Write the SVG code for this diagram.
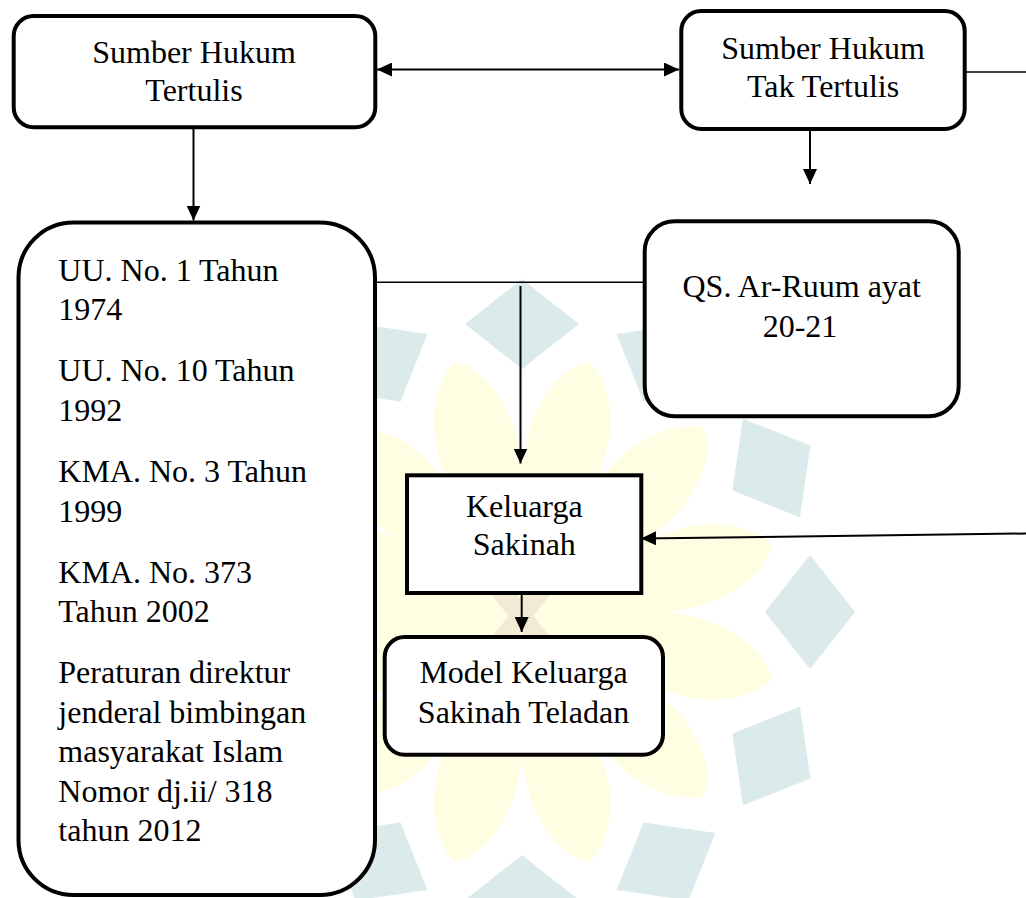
<svg xmlns="http://www.w3.org/2000/svg" xmlns:xlink="http://www.w3.org/1999/xlink" width="1026" height="898" viewBox="0 0 1026 898">
<style>
.box{fill:#ffffff;stroke:#000000;stroke-width:4}
.t{font-family:'Liberation Serif','Times New Roman',serif;font-size:32px;fill:#000000}
.c{text-anchor:middle}
.ln{fill:none;stroke:#000000;stroke-width:2}
.thin{fill:none;stroke:#000000;stroke-width:1.5}
.wm-b{fill:#dbeaeb}
.wm-y{fill:#fffee3}
.wm-t{fill:#f3ead6}
</style>
<defs>
<marker id="ah" viewBox="0 0 15 14" refX="15" refY="7" markerWidth="15" markerHeight="14" markerUnits="userSpaceOnUse" orient="auto-start-reverse">
<path d="M0,0 L15,7 L0,14 Z" fill="#000000"/>
</marker>
<path id="petal" d="M-37,-110 L-40,-175 C-40,-222 -14,-255 0,-258 C14,-255 40,-222 40,-175 L37,-110 Z"/>
<path id="dia" d="M0,-333 L57,-288 L0,-243 L-57,-288 Z"/>
</defs>
<rect width="1026" height="898" fill="#ffffff"/>
<g id="watermark">
<circle class="wm-y" cx="522" cy="612" r="142"/>
<g class="wm-y" transform="translate(522,612)">
<use xlink:href="#petal" transform="rotate(15)"/><use xlink:href="#petal" transform="rotate(45)"/><use xlink:href="#petal" transform="rotate(75)"/><use xlink:href="#petal" transform="rotate(105)"/><use xlink:href="#petal" transform="rotate(135)"/><use xlink:href="#petal" transform="rotate(165)"/><use xlink:href="#petal" transform="rotate(195)"/><use xlink:href="#petal" transform="rotate(225)"/><use xlink:href="#petal" transform="rotate(255)"/><use xlink:href="#petal" transform="rotate(285)"/><use xlink:href="#petal" transform="rotate(315)"/><use xlink:href="#petal" transform="rotate(345)"/>
</g>
<g class="wm-b" transform="translate(522,612)">
<use xlink:href="#dia" transform="rotate(0)"/><use xlink:href="#dia" transform="rotate(30)"/><use xlink:href="#dia" transform="rotate(60)"/><use xlink:href="#dia" transform="rotate(90)"/><use xlink:href="#dia" transform="rotate(120)"/><use xlink:href="#dia" transform="rotate(150)"/><use xlink:href="#dia" transform="rotate(180)"/><use xlink:href="#dia" transform="rotate(210)"/><use xlink:href="#dia" transform="rotate(240)"/><use xlink:href="#dia" transform="rotate(270)"/><use xlink:href="#dia" transform="rotate(300)"/><use xlink:href="#dia" transform="rotate(330)"/>
</g>
<g class="wm-t" transform="translate(521,616)">
<rect x="-10" y="-48" width="20" height="96" transform="rotate(38)"/>
<rect x="-10" y="-48" width="20" height="96" transform="rotate(-38)"/>
</g>
</g>
<g id="connectors">
<line class="ln" x1="377" y1="69.5" x2="679" y2="69.5" marker-start="url(#ah)" marker-end="url(#ah)"/>
<line class="ln" x1="193.5" y1="129" x2="193.5" y2="220.5" marker-end="url(#ah)"/>
<line class="ln" x1="810" y1="131" x2="810" y2="184" marker-end="url(#ah)"/>
<line class="thin" x1="958" y1="72" x2="1026" y2="72"/>
<line class="thin" x1="376" y1="282.3" x2="644" y2="282.3"/>
<line class="ln" x1="520.5" y1="286" x2="520.5" y2="463.5" marker-end="url(#ah)"/>
<line class="ln" x1="521.7" y1="595" x2="521.7" y2="632" marker-end="url(#ah)"/>
<line class="ln" x1="1026" y1="533.5" x2="641" y2="538.5" marker-end="url(#ah)"/>
</g>
<g id="node-sumber-tertulis">
<rect class="box" x="13.7" y="16" width="361.6" height="111.3" rx="20"/>
<text class="t c" x="194" y="63.3">Sumber Hukum</text>
<text class="t c" x="194" y="100.7">Tertulis</text>
</g>
<g id="node-sumber-tak-tertulis">
<rect class="box" x="681.3" y="11" width="283.4" height="118" rx="20"/>
<text class="t c" x="823" y="59.3">Sumber Hukum</text>
<text class="t c" x="823" y="97.3">Tak Tertulis</text>
</g>
<g id="node-peraturan">
<rect class="box" x="18.5" y="222.5" width="356.5" height="672.5" rx="55"/>
<text class="t" x="58.3" y="280.5">UU. No. 1 Tahun</text>
<text class="t" x="58.3" y="320">1974</text>
<text class="t" x="58.3" y="381">UU. No. 10 Tahun</text>
<text class="t" x="58.3" y="420.5">1992</text>
<text class="t" x="58.3" y="481.5">KMA. No. 3 Tahun</text>
<text class="t" x="58.3" y="521.5">1999</text>
<text class="t" x="58.3" y="583.3">KMA. No. 373</text>
<text class="t" x="58.3" y="622">Tahun 2002</text>
<text class="t" x="58.3" y="683.3">Peraturan direktur</text>
<text class="t" x="58.3" y="722.7">jenderal bimbingan</text>
<text class="t" x="58.3" y="761.9">masyarakat Islam</text>
<text class="t" x="58.3" y="801.5">Nomor dj.ii/ 318</text>
<text class="t" x="58.3" y="840.5">tahun 2012</text>
</g>
<g id="node-qs">
<rect class="box" x="644.7" y="221.3" width="314" height="195" rx="30"/>
<text class="t c" x="801.7" y="296.7">QS. Ar-Ruum ayat</text>
<text class="t c" x="800" y="336.7">20-21</text>
</g>
<g id="node-keluarga-sakinah">
<rect class="box" x="407" y="475.3" width="234.3" height="117.7"/>
<text class="t c" x="524.3" y="516.7">Keluarga</text>
<text class="t c" x="524.3" y="555">Sakinah</text>
</g>
<g id="node-model">
<rect class="box" x="384.7" y="637" width="278.3" height="117.7" rx="20"/>
<text class="t c" x="523.5" y="683.3">Model Keluarga</text>
<text class="t c" x="523.5" y="722.7">Sakinah Teladan</text>
</g>
</svg>
